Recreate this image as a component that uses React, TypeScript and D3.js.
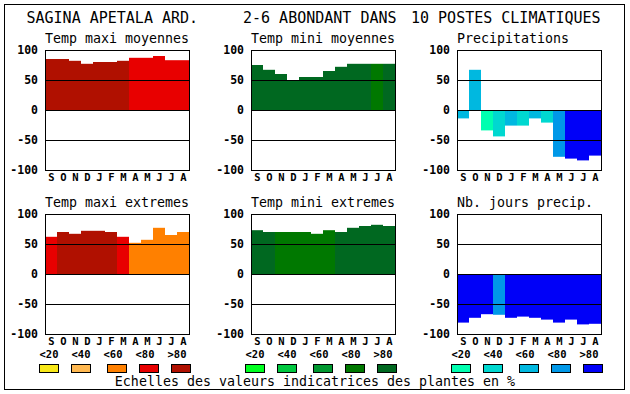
import React from 'react';
import * as d3 from 'd3';

const months = ['S', 'O', 'N', 'D', 'J', 'F', 'M', 'A', 'M', 'J', 'J', 'A'];
const tickValues = [100, 50, 0, -50, -100];
const gridValues = [50, 0, -50];
const classLabels = ['<20', '<40', '<60', '<80', '>80'];

// palettes per chart family
const tempColors = ['#f8e818', '#ffb850', '#ff8000', '#e80000', '#b01000'];
const greenColors = ['#00ff20', '#00c840', '#009830', '#007800', '#006820'];
const blueColors = ['#00ffb0', '#00d8d0', '#00b8e0', '#0098e8', '#0000f8'];

// values
const maxiMoy = [85, 85, 82, 77, 80, 80, 82, 87, 87, 90, 83, 83];
const maxiMoyClass = [4, 4, 4, 4, 4, 4, 4, 3, 3, 3, 3, 3];
const miniMoy = [75, 67, 60, 50, 55, 55, 65, 72, 77, 77, 77, 77];
const miniMoyClass = [4, 4, 4, 4, 4, 4, 4, 4, 4, 4, 3, 4];
const precip = [-14, 67, -34, -44, -26, -26, -14, -21, -78, -81, -84, -76];
const precipClass = [2, 2, 0, 1, 2, 1, 2, 1, 3, 4, 4, 4];
const maxiExt = [62, 70, 67, 72, 72, 70, 62, 52, 57, 77, 65, 70];
const maxiExtClass = [3, 4, 4, 4, 4, 4, 3, 2, 2, 2, 2, 2];
const miniExt = [73, 70, 70, 70, 70, 67, 73, 70, 77, 80, 82, 80];
const miniExtClass = [4, 4, 3, 3, 3, 3, 3, 4, 4, 4, 4, 4];
const jours = [-81, -73, -67, -68, -73, -71, -73, -76, -81, -76, -84, -83];
const joursClass = [4, 4, 4, 3, 4, 4, 4, 4, 4, 4, 4, 4];

const mono = '"DejaVu Sans Mono", "Liberation Mono", monospace';
const boxW = 144;
const boxH = 120;

const panels = [
  { title: 'Temp maxi moyennes', x: 45, y: 50, values: maxiMoy, cls: maxiMoyClass, colors: tempColors },
  { title: 'Temp mini moyennes', x: 251, y: 50, values: miniMoy, cls: miniMoyClass, colors: greenColors },
  { title: 'Precipitations', x: 457, y: 50, values: precip, cls: precipClass, colors: blueColors },
  { title: 'Temp maxi extremes', x: 45, y: 214, values: maxiExt, cls: maxiExtClass, colors: tempColors },
  { title: 'Temp mini extremes', x: 251, y: 214, values: miniExt, cls: miniExtClass, colors: greenColors },
  { title: 'Nb. jours precip.', x: 457, y: 214, values: jours, cls: joursClass, colors: blueColors },
];

const legends = [
  { x: 45, colors: tempColors },
  { x: 251, colors: greenColors },
  { x: 457, colors: blueColors },
];
const swatchOffsets = [-6, 26, 62, 94, 126];
const labelOffsets = [4, 36, 68, 100, 132];

const Panel = ({ p }: { p: typeof panels[number] }) => {
  const x = d3.scaleBand<number>().domain(d3.range(12)).range([0, boxW]);
  const y = d3.scaleLinear().domain([-100, 100]).range([boxH, 0]);
  return (
    <g transform={`translate(${p.x},${p.y})`}>
      <text x={0} y={-7} fontFamily={mono} fontSize={13.3}>{p.title}</text>
      {p.values.map((v, i) => (
        <rect key={i} x={x(i)} width={x.bandwidth()}
          y={y(Math.max(0, v))} height={Math.abs(y(v) - y(0))}
          fill={p.colors[p.cls[i]]} />
      ))}
      {gridValues.map(g => (
        <line key={g} x1={0} x2={boxW} y1={y(g) + 0.5} y2={y(g) + 0.5} stroke="#000" strokeWidth={1} />
      ))}
      <rect x={0.5} y={0.5} width={boxW} height={boxH} fill="none" stroke="#000" strokeWidth={1} />
      {tickValues.map(t => (
        <text key={t} x={-7} y={y(t) + 4} textAnchor="end" fontFamily={mono}
          fontWeight="bold" fontSize={11.5}>{t}</text>
      ))}
      {months.map((m, i) => (
        <text key={i} x={(x(i) ?? 0) + x.bandwidth() / 2 + 0.5} y={boxH + 11} textAnchor="middle"
          fontFamily={mono} fontWeight="bold" fontSize={10.5}>{m}</text>
      ))}
    </g>
  );
};

const App = () => {
  return (
    <svg width={630} height={394} style={{ position: 'absolute', left: 0, top: 0, background: '#fff' }}>
      <rect x={0} y={0} width={630} height={394} fill="#fff" />
      <rect x={4.5} y={4.5} width={620} height={385} fill="none" stroke="#000" strokeWidth={1} />
      <g fontFamily={mono} fontSize={15}>
        <text x={26.5} y={23}>SAGINA APETALA ARD.</text>
        <text x={243} y={23}>2-6 ABONDANT DANS</text>
        <text x={411} y={23}>10 POSTES CLIMATIQUES</text>
      </g>
      {panels.map((p, i) => <Panel key={i} p={p} />)}
      {legends.map((l, li) => (
        <g key={li} transform={`translate(${l.x},0)`}>
          {classLabels.map((c, i) => (
            <text key={c} x={labelOffsets[i]} y={358} textAnchor="middle" fontFamily={mono}
              fontWeight="bold" fontSize={10.5}>{c}</text>
          ))}
          {l.colors.map((c, i) => (
            <rect key={i} x={swatchOffsets[i] + 0.5} y={364.5} width={19} height={8}
              fill={c} stroke="#000" strokeWidth={1} />
          ))}
        </g>
      ))}
      <text x={315} y={386} textAnchor="middle" fontFamily={mono} fontSize={13.3}>
        Echelles des valeurs indicatrices des plantes en %
      </text>
    </svg>
  );
};

export default App;
